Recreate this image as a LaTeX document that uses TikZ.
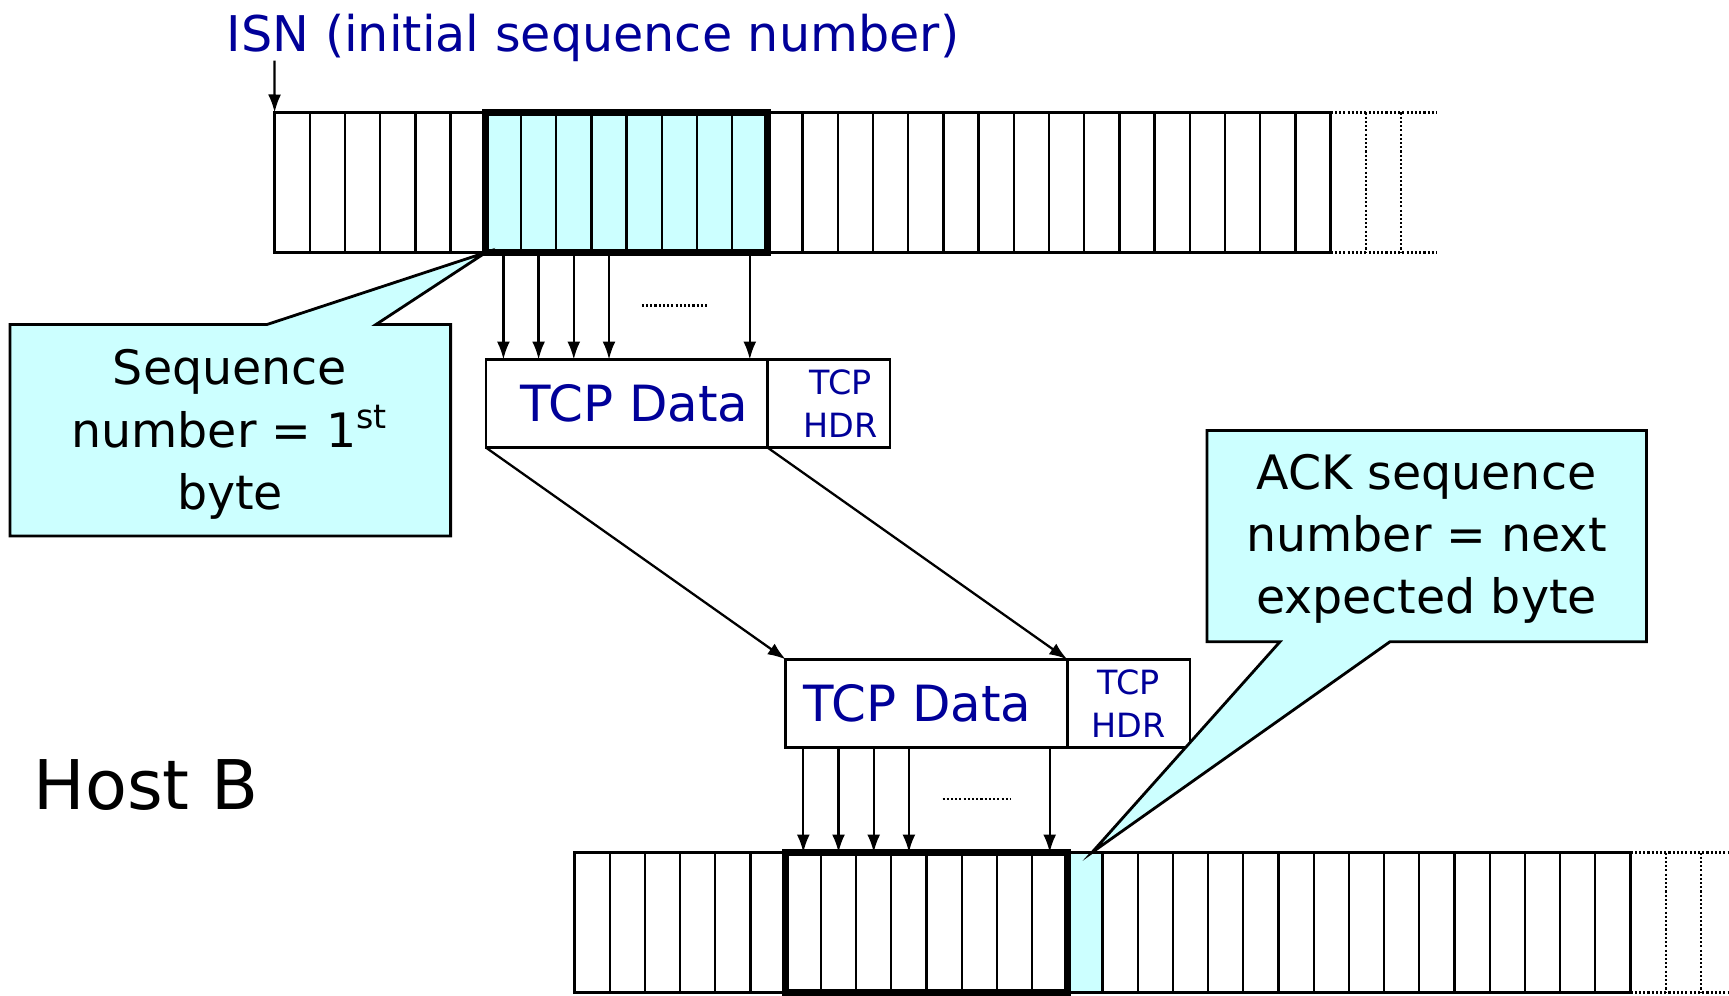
\documentclass[tikz,border=0pt]{standalone}
\usepackage{fontspec}
\setmainfont{DejaVu Sans}
\usetikzlibrary{positioning,arrows.meta}
\begin{document}
\begin{tikzpicture}[bytecell/.style={draw,line width=0.65pt,minimum width=0.352cm,minimum height=1.4cm,inner sep=0,outer sep=0},
  segbox/.style={draw,line width=0.7pt,minimum height=0.88cm,inner sep=0,outer sep=0,text=navyblue},
  databox/.style={segbox,minimum width=2.816cm,anchor=north west,font=\fontsize{14.2}{16}\selectfont},
  hdrbox/.style={segbox,minimum width=1.225cm,align=center,font=\fontsize{9.5}{12.2}\selectfont},
  byteline/.style={-{Latex[length=0.18cm,width=0.13cm]},line width=0.65pt},
  note/.style={draw,line width=0.8pt,fill=lightcyan},
  notetext/.style={align=center,font=\fontsize{13.5}{17.7}\selectfont}]
\definecolor{navyblue}{HTML}{000099}
\definecolor{lightcyan}{HTML}{CCFFFF}
\useasboundingbox (0,0) rectangle (17.29,9.95);
\node [anchor=base,text=navyblue,font=\fontsize{14}{16}\selectfont] (isn) at (5.93,9.43) {ISN (initial sequence number)};
\coordinate (isnfoot) at (2.746,9.344);
\fill [lightcyan] (4.858,7.425) rectangle (7.674,8.825);
  \foreach \i in {0,...,29}
  {  \node [bytecell] (top\i) at (2.922+0.352*\i,8.125) {};}
\draw [dash pattern=on 0.6pt off 0.6pt,line width=0.6pt] (top29.north east) -- ++(1.056,0) (top29.south east) -- ++(1.056,0)
  ([xshift=0.352cm]top29.north east) -- ++(0,-1.4) ([xshift=0.704cm]top29.north east) -- ++(0,-1.4);
\draw [byteline] (isnfoot) -- (top0.north west);
\draw [note] (0.10,6.705) -- (2.67,6.705) -- (top6.south west) -- (3.76,6.705) -- (4.506,6.705) -- (4.506,4.59) -- (0.10,4.59) -- cycle;
\node [notetext] (seqnote) at (2.30,5.605) {Sequence\\number = 1\textsuperscript{st}\\byte};
\draw [line width=2pt] (top6.north west) rectangle (top13.south east);
\node [databox] (topdata) at (4.858,6.355) {\hspace*{0.16cm}TCP Data};
\node [hdrbox,right=0pt of topdata] (tophdr) {\hspace*{0.24cm}TCP\\\hspace*{0.24cm}HDR};
  \foreach \i in {6,7,8,9,13}
  {  \draw [byteline] (top\i.south) -- (top\i.south |- topdata.north);}
\draw [dash pattern=on 0.6pt off 0.6pt,line width=0.6pt] (6.418,6.895) -- (7.09,6.895);
\node [databox] (botdata) at (7.857,3.356) {TCP Data\hspace*{0.18cm}};
\node [hdrbox,right=0pt of botdata] (bothdr) {TCP\\HDR};
\draw [byteline] (topdata.south west) -- (botdata.north west);
\draw [byteline] (tophdr.south west) -- (bothdr.north west);
\fill [lightcyan] (10.673,0.02) rectangle (11.025,1.43);
  \foreach \i in {0,...,29}
  {  \node [bytecell] (bot\i) at (5.921+0.352*\i,0.725) {};}
\draw [dash pattern=on 0.6pt off 0.6pt,line width=0.6pt] (bot29.north east) -- ++(1.056,0) (bot29.south east) -- ++(1.056,0)
  ([xshift=0.352cm]bot29.north east) -- ++(0,-1.4) ([xshift=0.704cm]bot29.north east) -- ++(0,-1.4);
\draw [line width=2pt] (bot6.north west) rectangle (bot13.south east);
  \foreach \i in {6,7,8,9,13}
  {  \draw [byteline] (bot\i.north |- botdata.south) -- (bot\i.north);}
\draw [dash pattern=on 0.6pt off 0.6pt,line width=0.6pt] (9.425,1.957) -- (10.10,1.957);
\draw [note] (12.07,5.645) -- (16.465,5.645) -- (16.465,3.533) -- (13.90,3.533) -- ([xshift=0.07cm]bot14.north) -- (12.80,3.533) -- (12.07,3.533) -- cycle;
\node [notetext] (acknote) at (14.265,4.56) {ACK sequence\\number = next\\expected byte};
\node [anchor=base west,inner sep=0,font=\fontsize{19.5}{22}\selectfont] (hostb) at (0.33,1.86) {Host B};
\end{tikzpicture}
\end{document}
